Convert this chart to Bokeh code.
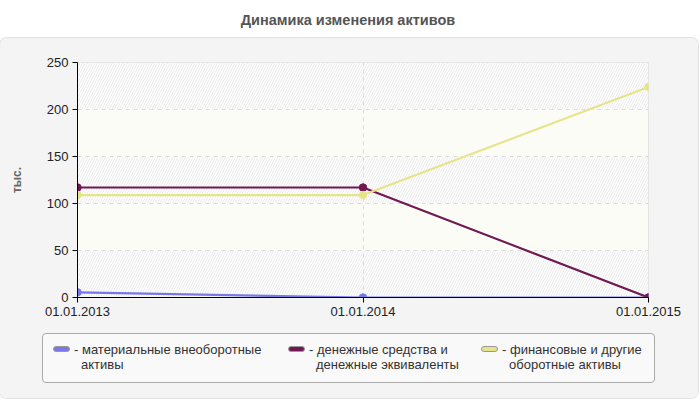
from bokeh.plotting import figure
from bokeh.models import (Range1d, FixedTicker, BoxAnnotation, Div)
from bokeh.layouts import column
from bokeh.embed import file_html
from bokeh.resources import INLINE

# ---- data ----
dates = ["01.01.2013", "01.01.2014", "01.01.2015"]
tangible = [5.5, 0, 0]            # материальные внеоборотные активы
cash = [117, 117, 0]              # денежные средства и денежные эквиваленты
financial = [109, 109, 224]       # финансовые и другие оборотные активы
y_ticks = [0, 50, 100, 150, 200, 250]

title_text = "Динамика изменения активов"
y_label = "тыс."
label_lines = [
    ["материальные внеоборотные", "активы"],
    ["денежные средства и", "денежные эквиваленты"],
    ["финансовые и другие", "оборотные активы"],
]
colors = ["#7878e8", "#701852", "#e6e48a"]

FONT = "Liberation Sans"
PANEL = "#f4f4f4"
W = 698
x = list(range(len(dates)))

title_div = Div(text=f'<div style="margin-left:-12px;">{title_text}</div>', width=W, height=28,
                styles={"text-align": "center", "font-weight": "bold",
                        "font-size": "14.5px", "color": "#555555",
                        "font-family": FONT, "line-height": "30px",
                        "width": f"{W}px"})

p = figure(width=W, height=284, output_backend="svg", toolbar_location=None,
           x_range=Range1d(0, len(dates) - 1), y_range=Range1d(y_ticks[0], y_ticks[-1]),
           min_border_left=77, min_border_right=50, min_border_top=24, min_border_bottom=25)
p.border_fill_color = PANEL
p.background_fill_color = "#ffffff"
p.outline_line_color = "#dddddd"

# bands
for i in range(len(y_ticks) - 1):
    if i % 2 == 0:
        b = BoxAnnotation(bottom=y_ticks[i], top=y_ticks[i + 1], fill_color="#ffffff",
                          fill_alpha=1, line_color=None, hatch_pattern="/",
                          hatch_color="#eaeaea", hatch_scale=5, hatch_weight=1,
                          level="image")
    else:
        b = BoxAnnotation(bottom=y_ticks[i], top=y_ticks[i + 1], fill_color="#fcfcf7",
                          fill_alpha=1, line_color=None, level="image")
    p.add_layout(b)

# grids
p.ygrid.ticker = FixedTicker(ticks=y_ticks)
p.ygrid.grid_line_color = "#dcdcdc"
p.ygrid.grid_line_dash = "4 4"
p.xgrid.ticker = FixedTicker(ticks=x)
p.xgrid.grid_line_color = "#dcdcdc"
p.xgrid.grid_line_dash = "4 4"

# axes
p.xaxis.ticker = FixedTicker(ticks=x)
p.xaxis.major_label_overrides = {i: d for i, d in enumerate(dates)}
p.yaxis.ticker = FixedTicker(ticks=y_ticks)
for ax in (p.xaxis, p.yaxis):
    ax.axis_line_color = "#000000"
    ax.major_tick_line_color = "#000000"
    ax.major_tick_out = 5
    ax.major_tick_in = 0
    ax.minor_tick_line_color = None
    ax.major_label_text_font = FONT
    ax.major_label_text_font_size = "13px"
    ax.major_label_text_color = "#222222"
p.yaxis.major_label_standoff = 4
p.xaxis.major_label_standoff = 4
p.yaxis.axis_label = y_label
p.yaxis.axis_label_text_font = FONT
p.yaxis.axis_label_text_font_size = "12px"
p.yaxis.axis_label_text_font_style = "bold"
p.yaxis.axis_label_text_color = "#666666"
p.yaxis.axis_label_standoff = 20

series = [tangible, cash, financial]
for vals, c in zip(series, colors):
    p.line(x, vals, line_color=c, line_width=2.2)
for vals, c in zip(series, colors):
    p.scatter(x, vals, size=7.5, fill_color=c, line_color=c)

# legend (HTML strip under the chart)
item_left = [10, 245, 438]
items_html = ""
for lines, c, lx in zip(label_lines, colors, item_left):
    items_html += (
        f'<div style="position:absolute;left:{lx}px;top:8px;display:flex;'
        f'align-items:flex-start;font-family:{FONT};font-size:13px;color:#333;line-height:15px;">'
        f'<span style="display:inline-block;flex:none;width:17px;height:6px;border:1px solid #999;'
        f'border-radius:4px;background:{c};margin-top:4px;"></span>'
        f'<span style="margin-left:11px;text-indent:-7px;white-space:nowrap;">'
        f'-&nbsp;{lines[0]}<br>{lines[1]}</span>'
        f'</div>'
    )
legend_html = (
    f'<div style="position:relative;width:{W}px;height:76px;background:{PANEL};">'
    f'<div style="position:absolute;left:42px;top:11px;width:613px;height:50px;'
    f'border:1px solid #aaaaaa;border-radius:4px;background:#f9f9f9;">'
    f'{items_html}</div></div>'
)
legend_div = Div(text=legend_html, width=W, height=76,
                 styles={"background-color": PANEL, "margin": "0", "padding": "0"})

panel = column(p, legend_div, spacing=0,
               styles={"border-radius": "7px", "box-shadow": "0 0 0 1px #e2e2e2",
                       "overflow": "hidden", "background-color": PANEL})
layout = column(title_div, panel, spacing=0)
open("out.html", "w").write(file_html(layout, INLINE))
